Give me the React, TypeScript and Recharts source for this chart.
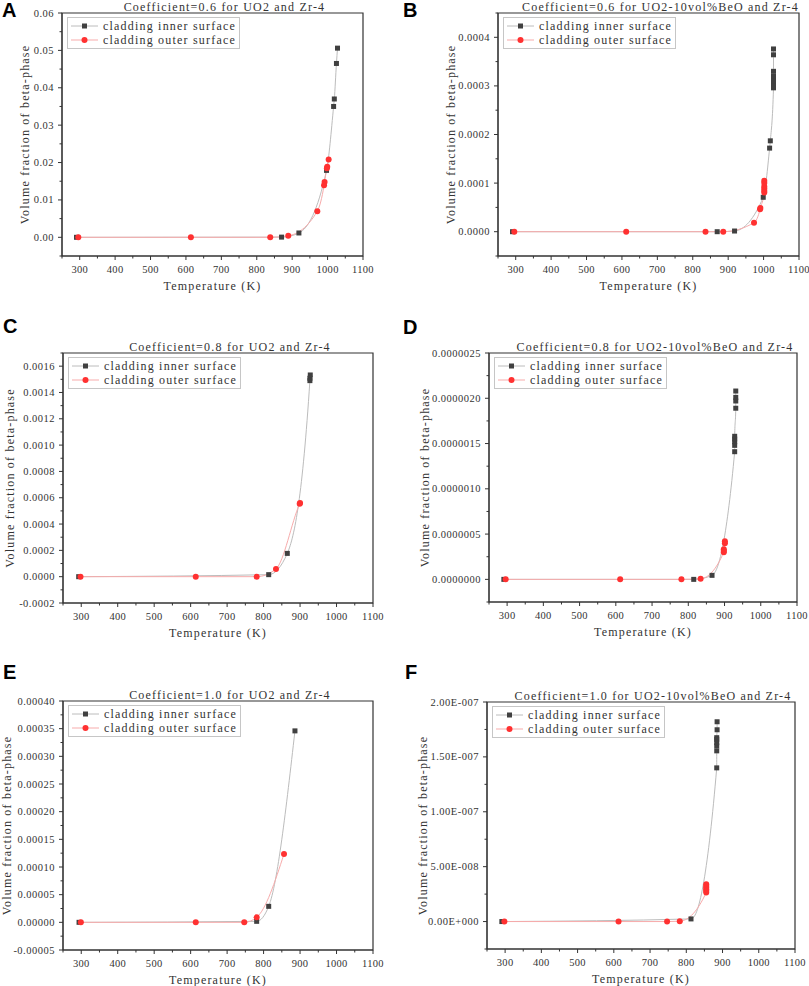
import React from 'react';
import {
  ComposedChart,
  Line,
  Scatter,
  XAxis,
  YAxis,
  ReferenceArea,
  Legend,
} from 'recharts';

// temperature axis (K)
const tempTicks = [250, 300, 350, 400, 450, 500, 550, 600, 650, 700, 750, 800, 850, 900, 950, 1000, 1050, 1100];
const tempLabels = [300, 400, 500, 600, 700, 800, 900, 1000, 1100];
const seriesNames = ['cladding inner surface', 'cladding outer surface'];

// A: Coefficient=0.6, UO2
const aInnerT = [291, 870, 919, 997, 1017, 1019, 1025, 1028];
const aInnerV = [0, 0.00005, 0.00116, 0.0179, 0.035, 0.037, 0.0465, 0.0506];
const aOuterT = [296, 614, 838, 889, 971, 990, 991.5, 998, 999, 1003];
const aOuterV = [0, 0, 0, 0.0004, 0.007, 0.0139, 0.0148, 0.0185, 0.0189, 0.0208];
const aTicks = [0, 0.01, 0.02, 0.03, 0.04, 0.05, 0.06];

// B: Coefficient=0.6, UO2-10vol%BeO
const bInnerT = [291, 869, 918, 999, 1017, 1019, 1028, 1028, 1028, 1028, 1028, 1028, 1028, 1028, 1028];
const bInnerV = [0, 0, 0.0000014, 0.0000708, 0.000172, 0.000187, 0.000296, 0.0003, 0.000305, 0.00031, 0.000315, 0.00032, 0.00033, 0.000364, 0.000376];
const bOuterT = [296, 612, 836, 886, 973, 990, 991, 1002, 1002, 1002, 1002, 1002, 1002];
const bOuterV = [0, 0, 0, 0, 0.0000186, 0.000046, 0.000049, 0.0000805, 0.0000845, 0.000089, 0.000093, 0.0001, 0.000105];
const bTicks = [0, 0.0001, 0.0002, 0.0003, 0.0004];

// C: Coefficient=0.8, UO2
const cInnerT = [293, 814, 865, 927, 927, 928];
const cInnerV = [0, 0.0000154, 0.000177, 0.00149, 0.001508, 0.001533];
const cOuterT = [298, 614, 781, 834, 899, 900];
const cOuterV = [0, 0, 0, 0.000059, 0.000554, 0.00056];
const cTicks = [-0.0002, 0, 0.0002, 0.0004, 0.0006, 0.0008, 0.001, 0.0012, 0.0014, 0.0016];

// D: Coefficient=0.8, UO2-10vol%BeO
const dInnerT = [291, 815, 865.5, 928, 928, 928, 928, 928, 931, 931, 931, 931];
const dInnerV = [0, 0, 0.0000000444, 0.00000141, 0.00000148, 0.00000152, 0.00000155, 0.00000158, 0.00000189, 0.00000197, 0.00000201, 0.00000208];
const dOuterT = [296, 612, 781, 834, 898, 898, 898, 901, 901];
const dOuterV = [0, 0, 0, 0.000000007, 0.0000003, 0.000000315, 0.000000333, 0.0000004, 0.000000422];
const dTicks = [0, 0.0000005, 0.000001, 0.0000015, 0.000002, 0.0000025];

// E: Coefficient=1.0, UO2
const eInnerT = [294, 781, 814, 886];
const eInnerV = [0, 0.0000018, 0.0000289, 0.000346];
const eOuterT = [299, 614, 747, 781, 856];
const eOuterV = [0, 0, 0, 0.000009, 0.0001235];
const eTicks = [-0.00005, 0, 0.00005, 0.0001, 0.00015, 0.0002, 0.00025, 0.0003, 0.00035, 0.0004];

// F: Coefficient=1.0, UO2-10vol%BeO
const fInnerT = [291, 813, 884, 884, 884, 884, 884, 884, 885, 885];
const fInnerV = [0, 2.4e-9, 1.4e-7, 1.555e-7, 1.6e-7, 1.63e-7, 1.66e-7, 1.675e-7, 1.747e-7, 1.82e-7];
const fOuterT = [298, 613, 747, 782, 855, 855, 855, 855, 855, 855];
const fOuterV = [0, 0, 0, 3e-10, 2.65e-8, 2.8e-8, 2.95e-8, 3.1e-8, 3.25e-8, 3.4e-8];
const fTicks = [0, 5e-8, 1e-7, 1.5e-7, 2e-7];

const SERIF = '"Liberation Serif", "DejaVu Serif", serif';
const INK = '#333333';
const GRAY_LINE = '#bcbcbc';
const PINK_LINE = '#f7abab';
const SQUARE = '#404040';
const CIRCLE = '#ff3131';
const SPACING = 1.2;

type Pt = { x: number; y: number };

const zip = (t: number[], v: number[]): Pt[] => t.map((x, i) => ({ x, y: v[i] }));
const sorted = (p: Pt[]) => [...p].sort((a, b) => a.x - b.x || a.y - b.y);

// add minor ticks half way between the labelled ones
const withMinor = (major: number[], dom: [number, number]) => {
  const out: number[] = [];
  const step = major[1] - major[0];
  const eps = (dom[1] - dom[0]) * 1e-6;
  if (major[0] - step / 2 >= dom[0] - eps) out.push(major[0] - step / 2);
  major.forEach((m, i) => {
    out.push(m);
    if (i < major.length - 1) out.push((m + major[i + 1]) / 2);
  });
  const last = major[major.length - 1];
  if (last + step / 2 <= dom[1] + eps) out.push(last + step / 2);
  return out;
};

const sci = (v: number) => {
  if (v === 0) return '0.00E+000';
  const e = Math.floor(Math.log10(Math.abs(v)) + 1e-9);
  const m = v / Math.pow(10, e);
  return `${m.toFixed(2)}E${e < 0 ? '-' : '+'}${String(Math.abs(e)).padStart(3, '0')}`;
};

const textStyle = { fontFamily: SERIF, fontSize: 12, letterSpacing: SPACING, fill: INK };

const XTick = (props: any) => {
  const { x, y, payload } = props;
  const major = tempLabels.includes(payload.value);
  return (
    <g>
      <line x1={x} y1={y} x2={x} y2={y + (major ? 4 : 2.5)} stroke={INK} strokeWidth={1} />
      {major && (
        <text x={x} y={y + 17} textAnchor="middle" fontFamily={SERIF} fontSize={10.5} letterSpacing={0.3} fill={INK}>
          {payload.value}
        </text>
      )}
    </g>
  );
};

const makeYTick = (major: number[], fmt: (v: number) => string, eps: number) => (props: any) => {
  const { x, y, payload } = props;
  const hit = major.find((m) => Math.abs(m - payload.value) < eps);
  const isMajor = hit !== undefined;
  return (
    <g>
      <line x1={x} y1={y} x2={x - (isMajor ? 4 : 2.5)} y2={y} stroke={INK} strokeWidth={1} />
      {isMajor && (
        <text x={x - 8} y={y + 3.5} textAnchor="end" fontFamily={SERIF} fontSize={10.5} letterSpacing={0.5} fill={INK}>
          {fmt(hit as number)}
        </text>
      )}
    </g>
  );
};

const SquareMark = (p: any) => (
  <rect x={p.cx - 2.5} y={p.cy - 2.5} width={5} height={5} fill={SQUARE} />
);
const CircleMark = (p: any) => <circle cx={p.cx} cy={p.cy} r={3} fill={CIRCLE} />;

const LegendBox = () => (
  <div
    style={{
      border: '1px solid #c6c6c6',
      background: '#fff',
      padding: '1px 3px',
      fontFamily: SERIF,
      fontSize: 12,
      letterSpacing: SPACING,
      color: INK,
      lineHeight: '14px',
      whiteSpace: 'nowrap',
    }}
  >
    {seriesNames.map((name, i) => (
      <div key={name} style={{ display: 'flex', alignItems: 'center' }}>
        <svg width={27} height={14}>
          <line x1={0} y1={7} x2={27} y2={7} stroke={i === 0 ? GRAY_LINE : PINK_LINE} />
          {i === 0 ? (
            <rect x={11} y={4.5} width={5} height={5} fill={SQUARE} />
          ) : (
            <circle cx={13.5} cy={7} r={3} fill={CIRCLE} />
          )}
        </svg>
        <span style={{ marginLeft: 5 }}>{name}</span>
      </div>
    ))}
  </div>
);

type Box = { x: number; y: number };
type Plot = { l: number; r: number; t: number; b: number };

type PanelProps = {
  box: Box;
  plot: Plot;
  title: string;
  yDomain: [number, number];
  yMajor: number[];
  fmt: (v: number) => string;
  yLabelX: number;
  inner: Pt[];
  outer: Pt[];
};

const Panel = ({ box, plot, title, yDomain, yMajor, fmt, yLabelX, inner, outer }: PanelProps) => {
  const w = plot.r - box.x + 16;
  const h = plot.b - box.y + 40;
  const yTicks = withMinor(yMajor, yDomain);
  const eps = (yDomain[1] - yDomain[0]) * 1e-6;
  const titleX = (plot.l + plot.r) / 2 + 12 - box.x;
  return (
    <div style={{ position: 'absolute', left: box.x, top: box.y, width: w, height: h }}>
      <ComposedChart
        width={w}
        height={h}
        margin={{ top: plot.t - box.y, right: 16, bottom: 0, left: 0 }}
      >
        <XAxis
          type="number"
          dataKey="x"
          domain={[250, 1100]}
          ticks={tempTicks}
          interval={0}
          tickSize={0}
          tickMargin={0}
          tickLine={false}
          tick={XTick}
          axisLine={{ stroke: INK }}
          height={40}
          allowDataOverflow
          label={{ value: 'Temperature (K)', position: 'insideBottom', offset: 6, style: textStyle }}
        />
        <YAxis
          type="number"
          dataKey="y"
          domain={yDomain}
          ticks={yTicks}
          interval={0}
          tickSize={0}
          tickMargin={0}
          tickLine={false}
          tick={makeYTick(yMajor, fmt, eps)}
          axisLine={{ stroke: INK }}
          width={plot.l - box.x}
          allowDataOverflow
          label={{
            value: 'Volume fraction of beta-phase',
            angle: -90,
            position: 'insideLeft',
            offset: yLabelX,
            style: { ...textStyle, textAnchor: 'middle' },
          }}
        />
        <ReferenceArea
          x1={250}
          x2={1100}
          y1={yDomain[0]}
          y2={yDomain[1]}
          fill="none"
          stroke={INK}
          strokeWidth={1.2}
          ifOverflow="visible"
        />
        <Line
          data={sorted(inner)}
          dataKey="y"
          type="monotone"
          stroke={GRAY_LINE}
          strokeWidth={1}
          dot={false}
          activeDot={false}
          isAnimationActive={false}
        />
        <Line
          data={sorted(outer)}
          dataKey="y"
          type="monotone"
          stroke={PINK_LINE}
          strokeWidth={1}
          dot={false}
          activeDot={false}
          isAnimationActive={false}
        />
        <Scatter data={inner} dataKey="y" shape={SquareMark} isAnimationActive={false} />
        <Scatter data={outer} dataKey="y" shape={CircleMark} isAnimationActive={false} />
        <Legend
          layout="horizontal"
          verticalAlign="middle"
          align="center"
          content={<LegendBox />}
          wrapperStyle={{ left: plot.l - box.x + 5, top: plot.t - box.y + 4, width: 'auto', height: 'auto' }}
        />
      </ComposedChart>
      <div
        style={{
          position: 'absolute',
          left: titleX - 200,
          top: plot.t - box.y - 13,
          width: 400,
          textAlign: 'center',
          fontFamily: SERIF,
          fontSize: 12,
          letterSpacing: SPACING,
          lineHeight: '14px',
          color: INK,
          whiteSpace: 'nowrap',
        }}
      >
        {title}
      </div>
    </div>
  );
};

const letterStyle: React.CSSProperties = {
  position: 'absolute',
  fontFamily: '"Liberation Sans", Arial, sans-serif',
  fontWeight: 'bold',
  fontSize: 20,
  lineHeight: 1,
  color: '#000',
};

const f2 = (v: number) => v.toFixed(2);
const f4 = (v: number) => v.toFixed(4);
const f5 = (v: number) => v.toFixed(5);
const f7 = (v: number) => v.toFixed(7);

export default function App() {
  return (
    <div
      style={{
        position: 'absolute',
        left: 0,
        top: 0,
        width: 809,
        height: 986,
        overflow: 'hidden',
        background: '#fff',
      }}
    >
      <Panel
        box={{ x: 0, y: 0 }}
        plot={{ l: 62, r: 363, t: 13, b: 256 }}
        title="Coefficient=0.6 for UO2 and Zr-4"
        yDomain={[-0.005, 0.06]}
        yMajor={aTicks}
        fmt={f2}
        yLabelX={25}
        inner={zip(aInnerT, aInnerV)}
        outer={zip(aOuterT, aOuterV)}
      />
      <Panel
        box={{ x: 400, y: 0 }}
        plot={{ l: 498, r: 799, t: 13, b: 256 }}
        title="Coefficient=0.6 for UO2-10vol%BeO and Zr-4"
        yDomain={[-0.00005, 0.00045]}
        yMajor={bTicks}
        fmt={f4}
        yLabelX={51}
        inner={zip(bInnerT, bInnerV)}
        outer={zip(bOuterT, bOuterV)}
      />
      <Panel
        box={{ x: 0, y: 320 }}
        plot={{ l: 63, r: 373, t: 353, b: 603 }}
        title="Coefficient=0.8 for UO2 and Zr-4"
        yDomain={[-0.0002, 0.0017]}
        yMajor={cTicks}
        fmt={f4}
        yLabelX={10}
        inner={zip(cInnerT, cInnerV)}
        outer={zip(cOuterT, cOuterV)}
      />
      <Panel
        box={{ x: 400, y: 320 }}
        plot={{ l: 489, r: 797, t: 353, b: 602 }}
        title="Coefficient=0.8 for UO2-10vol%BeO and Zr-4"
        yDomain={[-0.00000025, 0.0000025]}
        yMajor={dTicks}
        fmt={f7}
        yLabelX={25}
        inner={zip(dInnerT, dInnerV)}
        outer={zip(dOuterT, dOuterV)}
      />
      <Panel
        box={{ x: 0, y: 650 }}
        plot={{ l: 63, r: 373, t: 701, b: 950 }}
        title="Coefficient=1.0 for UO2 and Zr-4"
        yDomain={[-0.00005, 0.0004]}
        yMajor={eTicks}
        fmt={f5}
        yLabelX={7}
        inner={zip(eInnerT, eInnerV)}
        outer={zip(eOuterT, eOuterV)}
      />
      <Panel
        box={{ x: 400, y: 650 }}
        plot={{ l: 487, r: 795, t: 702, b: 949 }}
        title="Coefficient=1.0 for UO2-10vol%BeO and Zr-4"
        yDomain={[-2.5e-8, 2e-7]}
        yMajor={fTicks}
        fmt={sci}
        yLabelX={23}
        inner={zip(fInnerT, fInnerV)}
        outer={zip(fOuterT, fOuterV)}
      />
      <div style={{ ...letterStyle, left: 2, top: 0 }}>A</div>
      <div style={{ ...letterStyle, left: 403, top: 0 }}>B</div>
      <div style={{ ...letterStyle, left: 3, top: 316 }}>C</div>
      <div style={{ ...letterStyle, left: 403, top: 317 }}>D</div>
      <div style={{ ...letterStyle, left: 3, top: 662 }}>E</div>
      <div style={{ ...letterStyle, left: 405, top: 662 }}>F</div>
    </div>
  );
}
